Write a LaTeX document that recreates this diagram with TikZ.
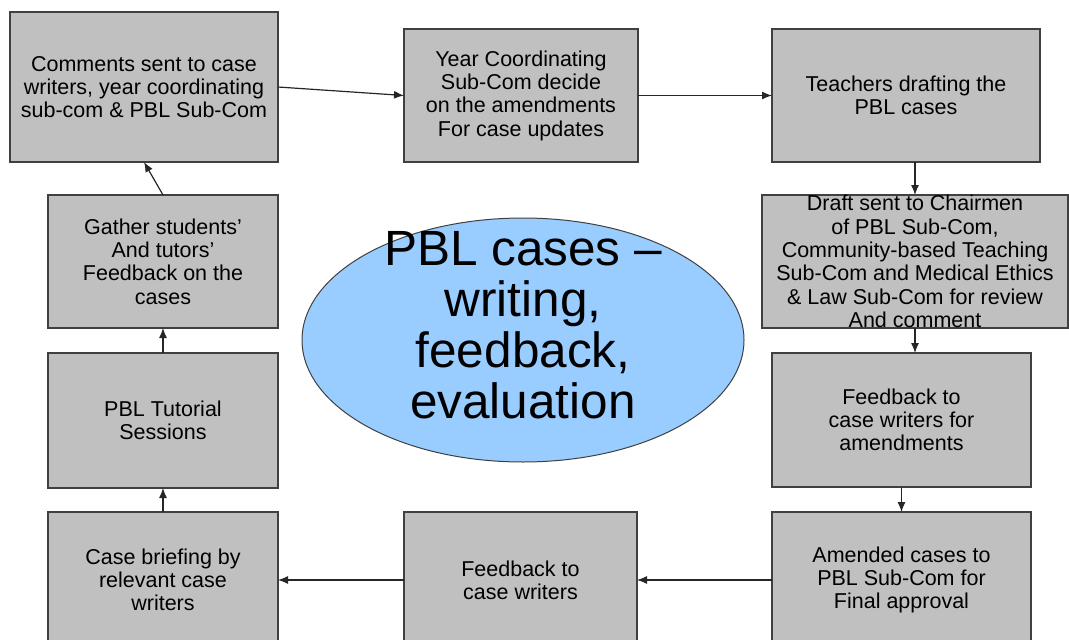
\documentclass[tikz,border=0pt]{standalone}
\usepackage{xcolor}
\usepackage{fontspec}
\setmainfont{Liberation Sans}
\usepackage{tikz}
\usetikzlibrary{arrows.meta}
\usetikzlibrary{shapes,shapes.geometric}
\definecolor{boxgray}{HTML}{C0C0C0}
\definecolor{topicblue}{HTML}{99CCFF}
\tikzset{>=stealth}
\tikzset{
  stagebox/.style={draw=black!75, line width=1.2pt, fill=boxgray, inner sep=0pt, outer sep=0pt,
    align=center, font=\fontsize{21.5}{23.3}\selectfont},
  flow/.style={-{Latex[length=10pt,width=8pt]}, black!85, line width=1.2pt},
}

\begin{document}
\begin{tikzpicture}[x=1pt, y=-1pt]
        \useasboundingbox (0,0) rectangle (1069,640);

        % Central topic
        \draw [black!75, line width=1pt, fill=topicblue] (523,340) ellipse [x radius=221pt, y radius=122pt];
        \node[align=center, font=\fontsize{49.5}{51}\selectfont] (title) at (523,325.5)
          {PBL cases --\\ writing,\\ feedback,\\ evaluation};

        % Boxes
        \node[stagebox, minimum width=268pt, minimum height=150pt] (comments) at (144,87)
          {Comments sent to case\\ writers, year coordinating\\ sub-com \& PBL Sub-Com};
        \node[stagebox, minimum width=234pt, minimum height=133pt] (yearcom) at (521,95.5)
          {Year Coordinating\\ Sub-Com decide\\ on the amendments\\ For case updates};
        \node[stagebox, minimum width=268pt, minimum height=133pt] (drafting) at (906,95.5)
          {Teachers drafting the\\ PBL cases};
        \node[stagebox, minimum width=306pt, minimum height=133pt] (review) at (915,261.5)
          {Draft sent to Chairmen\\ of PBL Sub-Com,\\ Community-based Teaching\\ Sub-Com and Medical Ethics\\ \& Law Sub-Com for review\\ And comment};
        \node[stagebox, minimum width=259pt, minimum height=134pt] (amend) at (901.5,420)
          {Feedback to\\ case writers for\\ amendments};
        \node[stagebox, minimum width=259pt, minimum height=136pt] (approval) at (901.5,580)
          {Amended cases to\\ PBL Sub-Com for\\ Final approval};
        \node[stagebox, minimum width=233pt, minimum height=136pt] (fbwriters) at (520.5,580)
          {Feedback to\\ case writers};
        \node[stagebox, minimum width=230pt, minimum height=136pt] (briefing) at (163,580)
          {Case briefing by\\ relevant case\\ writers};
        \node[stagebox, minimum width=230pt, minimum height=135pt] (tutorial) at (163,420.5)
          {PBL Tutorial\\ Sessions};
        \node[stagebox, minimum width=230pt, minimum height=133pt] (gather) at (163,261.5)
          {Gather students'\\ And tutors'\\ Feedback on the\\ cases};

        % Arrows
        \draw [flow] (comments.east) -- (yearcom.west);
        \draw [flow] (yearcom.east) -- (drafting.west);
        \draw [flow] (review.north |- drafting.south) -- (review.north);
        \draw [flow] (review.south) -- (review.south |- amend.north);
        \draw [flow] (amend.south) -- (approval.north);
        \draw [flow] (approval.west) -- (fbwriters.east);
        \draw [flow] (fbwriters.west) -- (briefing.east);
        \draw [flow] (briefing.north) -- (tutorial.south);
        \draw [flow] (tutorial.north) -- (gather.south);
        \draw [flow] (gather.north) -- (comments.south);
      \end{tikzpicture}
\end{document}
